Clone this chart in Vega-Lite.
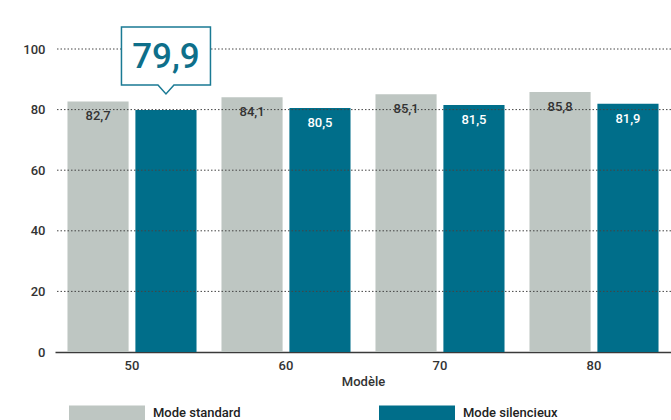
{
  "$schema": "https://vega.github.io/schema/vega-lite/v6.json",
  "width": 616,
  "height": 303,
  "autosize": {"type": "none"},
  "padding": {"top": 49, "left": 55, "right": 0, "bottom": 68},
  "background": "white",
  "config": {
    "font": "Roboto",
    "locale": {"number": {"decimal": ",", "thousands": " ", "grouping": [3], "currency": ["", " €"]}},
    "view": {"stroke": null}
  },
  "data": {
    "values": [
      {"modele": "50", "mode": "Mode standard", "valeur": 82.7},
      {"modele": "50", "mode": "Mode silencieux", "valeur": 79.9},
      {"modele": "60", "mode": "Mode standard", "valeur": 84.1},
      {"modele": "60", "mode": "Mode silencieux", "valeur": 80.5},
      {"modele": "70", "mode": "Mode standard", "valeur": 85.1},
      {"modele": "70", "mode": "Mode silencieux", "valeur": 81.5},
      {"modele": "80", "mode": "Mode standard", "valeur": 85.8},
      {"modele": "80", "mode": "Mode silencieux", "valeur": 81.9}
    ]
  },
  "encoding": {
    "x": {
      "field": "modele", "type": "ordinal", "title": "Modèle",
      "scale": {"paddingInner": 0.162, "paddingOuter": 0.081},
      "axis": {
        "labelAngle": 0, "ticks": false, "domainColor": "#3a3a3a", "domainWidth": 1.5,
        "labelFontSize": 13, "labelFontWeight": 500, "labelColor": "#333", "labelPadding": 7,
        "titleFontSize": 13, "titleFontWeight": 500, "titleColor": "#333", "titlePadding": 3
      }
    },
    "xOffset": {
      "field": "mode", "type": "nominal",
      "sort": ["Mode standard", "Mode silencieux"],
      "scale": {"paddingInner": 0.1}
    }
  },
  "layer": [
    {
      "mark": {"type": "bar"},
      "encoding": {
        "y": {
          "field": "valeur", "type": "quantitative", "title": null,
          "scale": {"domain": [0, 100], "nice": false},
          "axis": {
            "values": [0, 20, 40, 60, 80, 100], "grid": false, "domain": false, "ticks": false,
            "labelFontSize": 13, "labelFontWeight": 500, "labelColor": "#333", "labelPadding": 10
          }
        },
        "color": {
          "field": "mode", "type": "nominal",
          "sort": ["Mode standard", "Mode silencieux"],
          "scale": {"domain": ["Mode standard", "Mode silencieux"], "range": ["#bec6c2", "#006e8a"]},
          "legend": {
            "title": null, "orient": "none", "direction": "horizontal",
            "legendX": 14, "legendY": 326, "padding": 0,
            "symbolType": "M-1,-0.2H1V0.2H-1Z", "symbolSize": 5776, "symbolStrokeWidth": 0,
            "symbolOpacity": 1,
            "labelFontSize": 13, "labelFontWeight": 500, "labelColor": "#222", "labelOffset": 8,
            "columnPadding": 138, "labelLimit": 200
          }
        }
      }
    },
    {
      "data": {"values": [{"g": 20}, {"g": 40}, {"g": 60}, {"g": 80}, {"g": 100}]},
      "mark": {"type": "rule", "color": "#444", "strokeWidth": 1, "strokeDash": [1.5, 2]},
      "encoding": {
        "x": null, "xOffset": null,
        "y": {"field": "g", "type": "quantitative"}
      }
    },
    {
      "transform": [{"filter": "!(datum.modele == '50' && datum.mode == 'Mode silencieux')"}],
      "mark": {"type": "text", "baseline": "middle", "dy": 15, "fontSize": 13, "fontWeight": 500},
      "encoding": {
        "y": {"field": "valeur", "type": "quantitative"},
        "text": {"field": "valeur", "type": "quantitative", "format": ".1f"},
        "color": {
          "condition": {"test": "datum.mode == 'Mode silencieux'", "value": "white"},
          "value": "#333"
        }
      }
    },
    {
      "transform": [{"filter": "datum.modele == '50' && datum.mode == 'Mode silencieux'"}],
      "mark": {
        "type": "point", "shape": "M-44.5,-83H44.5V-25H8L0,-16L-8,-25H-44.5Z",
        "size": 4, "filled": true, "fill": "white", "stroke": "#1a7a94",
        "strokeWidth": 1.5, "opacity": 1
      },
      "encoding": {
        "y": {"field": "valeur", "type": "quantitative"}
      }
    },
    {
      "transform": [{"filter": "datum.modele == '50' && datum.mode == 'Mode silencieux'"}],
      "mark": {"type": "text", "baseline": "middle", "dy": -53, "fontSize": 35, "fontWeight": 500, "color": "#0e6f8a"},
      "encoding": {
        "y": {"field": "valeur", "type": "quantitative"},
        "text": {"field": "valeur", "type": "quantitative", "format": ".1f"}
      }
    }
  ]
}
